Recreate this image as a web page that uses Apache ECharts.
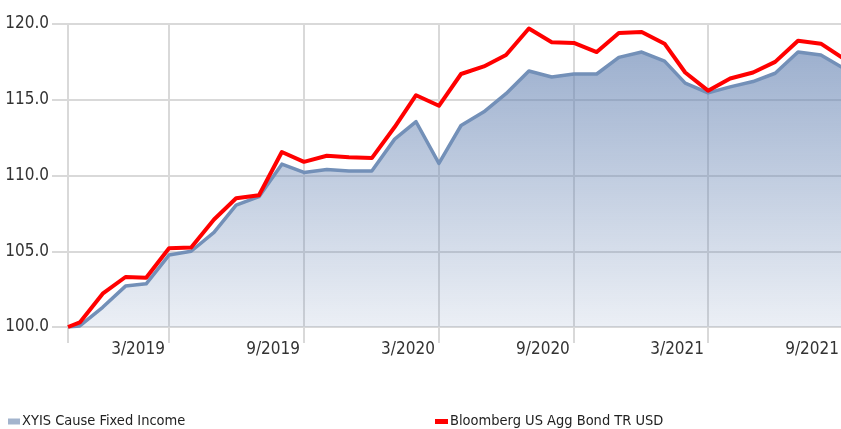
<!DOCTYPE html>
<html>
<head>
<meta charset="utf-8">
<script src="https://cdn.jsdelivr.net/npm/echarts@6/dist/echarts.min.js"></script>
<style>
  html, body { margin: 0; padding: 0; background: #fff; }
  #main { width: 841px; height: 429px; }
</style>
</head>
<body>
<div id="main"></div>
<script>
var dates = [
  '2018-11-14', '2018-11-30', '2018-12-31',
  '2019-01-31', '2019-02-28', '2019-03-31', '2019-04-30', '2019-05-31', '2019-06-30',
  '2019-07-31', '2019-08-31', '2019-09-30', '2019-10-31', '2019-11-30', '2019-12-31',
  '2020-01-31', '2020-02-29', '2020-03-31', '2020-04-30', '2020-05-31', '2020-06-30',
  '2020-07-31', '2020-08-31', '2020-09-30', '2020-10-31', '2020-11-30', '2020-12-31',
  '2021-01-31', '2021-02-28', '2021-03-31', '2021-04-30', '2021-05-31', '2021-06-30',
  '2021-07-31', '2021-08-31', '2021-09-30'
];
var fundValues = [
  100.0, 100.07, 101.3,
  102.7, 102.85, 104.75, 105.0, 106.25, 108.05,
  108.6, 110.75, 110.2, 110.4, 110.3, 110.3,
  112.4, 113.55, 110.8, 113.3, 114.2, 115.4,
  116.9, 116.5, 116.7, 116.7, 117.8, 118.15,
  117.55, 116.1, 115.45, 115.85, 116.2, 116.75,
  118.15, 117.95, 117.1
];
var benchValues = [
  100.0, 100.3, 102.2,
  103.3, 103.25, 105.2, 105.25, 107.1, 108.5,
  108.7, 111.55, 110.9, 111.3, 111.2, 111.15,
  113.2, 115.3, 114.6, 116.7, 117.2, 117.95,
  119.7, 118.8, 118.75, 118.15, 119.4, 119.47,
  118.7, 116.8, 115.6, 116.4, 116.8, 117.5,
  118.9, 118.7, 117.75
];
var tickDates = ['2019-03-31', '2019-09-30', '2020-03-31', '2020-09-30', '2021-03-31', '2021-09-30'];
var seriesNames = ['XYIS Cause Fixed Income', 'Bloomberg US Agg Bond TR USD'];

var font = "'Liberation Sans Narrow', 'DejaVu Sans Condensed', sans-serif";
var gridColor = '#d9d9d9';

function ts(d) {
  return new Date(d + 'T00:00:00Z').getTime();
}
function pairs(values) {
  return values.map(function(v, i) { return [ts(dates[i]), v]; });
}

var tickValues = tickDates.map(ts);
var chart = echarts.init(document.getElementById('main'));

chart.setOption({
  animation: false,
  grid: { left: 68, right: -2, top: 24, bottom: 102, outerBoundsMode: 'none', containLabel: false },
  xAxis: {
    type: 'value',
    min: ts(dates[0]),
    max: ts(dates[dates.length - 1]),
    axisLine: { show: true, lineStyle: { color: gridColor, width: 2 } },
    axisTick: {
      show: true, length: 16, inside: false,
      customValues: [ts(dates[0])].concat(tickValues),
      lineStyle: { color: gridColor, width: 2 }
    },
    axisLabel: {
      customValues: tickValues,
      align: 'right',
      verticalAlign: 'top',
      margin: 14,
      padding: [0, 4, 0, 0],
      color: '#333',
      fontFamily: font,
      fontSize: 17,
      formatter: function(v) {
        var d = new Date(v);
        return (d.getUTCMonth() + 1) + '/' + d.getUTCFullYear();
      }
    },
    splitLine: { show: true, lineStyle: { color: gridColor, width: 2 } }
  },
  yAxis: {
    type: 'value',
    min: 100,
    max: 120,
    interval: 5,
    axisLine: { show: true, lineStyle: { color: gridColor, width: 2 } },
    axisTick: { show: true, length: 16, lineStyle: { color: gridColor, width: 2 } },
    axisLabel: {
      margin: 19,
      color: '#333',
      fontFamily: font,
      fontSize: 17,
      formatter: function(v) { return v.toFixed(1); }
    },
    splitLine: { show: true, lineStyle: { color: gridColor, width: 2 } }
  },
  legend: [
    {
      left: 8, top: 414, padding: 0,
      itemWidth: 12, itemHeight: 6, itemGap: 0,
      icon: 'rect',
      textStyle: { fontFamily: font, fontSize: 14.5, color: '#222', padding: [0, 0, 0, -3] },
      data: [{ name: seriesNames[0], itemStyle: { color: '#a3b4cd', borderWidth: 0 } }]
    },
    {
      left: 435, top: 414, padding: 0,
      itemWidth: 13, itemHeight: 5, itemGap: 0,
      icon: 'rect',
      textStyle: { fontFamily: font, fontSize: 14.5, color: '#222', padding: [0, 0, 0, -3] },
      data: [{ name: seriesNames[1], itemStyle: { color: '#ff0000', borderWidth: 0 } }]
    }
  ],
  series: [
    {
      name: seriesNames[0],
      type: 'line',
      data: pairs(fundValues),
      showSymbol: false,
      symbol: 'none',
      lineStyle: { color: '#7390b8', width: 3.5, join: 'round' },
      itemStyle: { color: '#7390b8' },
      areaStyle: {
        origin: 'start',
        color: new echarts.graphic.LinearGradient(0, 0, 0, 1, [
          { offset: 0, color: 'rgba(100,130,178,0.9)' },
          { offset: 1, color: 'rgba(100,130,178,0.18)' }
        ])
      },
      z: 2
    },
    {
      name: seriesNames[1],
      type: 'line',
      data: pairs(benchValues),
      showSymbol: false,
      symbol: 'none',
      lineStyle: { color: '#ff0000', width: 4, join: 'round' },
      itemStyle: { color: '#ff0000' },
      z: 3
    }
  ]
});
</script>
</body>
</html>
